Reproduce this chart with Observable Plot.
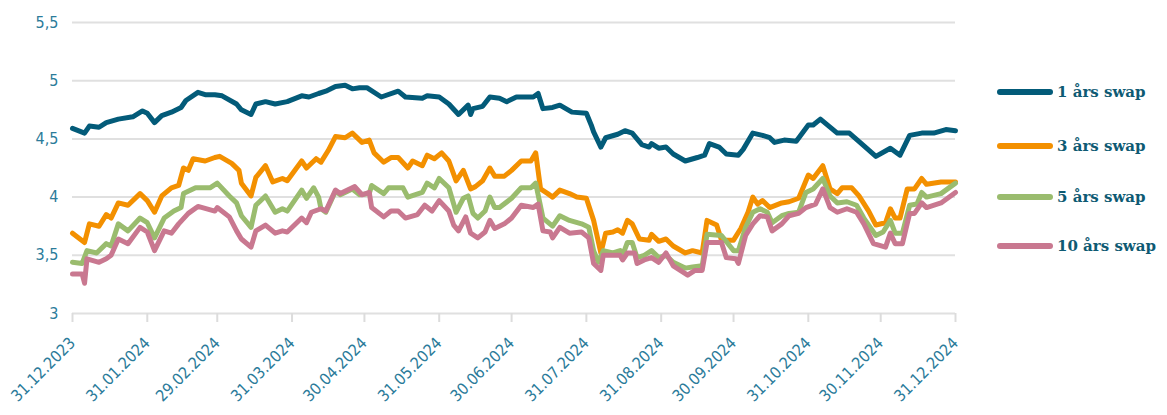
<!DOCTYPE html>
<html>
<head>
<meta charset="utf-8">
<script src="https://cdn.jsdelivr.net/npm/d3@7"></script>
<script src="https://cdn.jsdelivr.net/npm/@observablehq/plot@0.6"></script>
<style>
  html, body { margin: 0; padding: 0; background: #fff; }
  #wrap { position: relative; width: 1167px; height: 415px; }
  #chart { position: absolute; left: 0; top: 0; }
  .leg { position: absolute; left: 997px; height: 20px; display: flex; align-items: center;
         font-family: "DejaVu Serif", serif; font-weight: bold; font-size: 15px; color: #0e5a73; white-space: nowrap; }
  .leg .sw { width: 56px; height: 6px; border-radius: 3px; margin-right: 4px; }
</style>
</head>
<body>
<div id="wrap"><div id="chart"></div><div id="legend"></div></div>
<script>
const seriesNames = ["1 års swap", "3 års swap", "5 års swap", "10 års swap"];
const seriesColors = ["#035b79", "#f39000", "#9abc6e", "#c97890"];
const yTicks = [3, 3.5, 4, 4.5, 5, 5.5];
const xTicks = ["2023-12-31","2024-01-31","2024-02-29","2024-03-31","2024-04-30","2024-05-31","2024-06-30","2024-07-31","2024-08-31","2024-09-30","2024-10-31","2024-11-30","2024-12-31"];

const ones = [
["2023-12-31",4.59],["2024-01-05",4.55],["2024-01-07",4.61],["2024-01-11",4.60],["2024-01-14",4.64],["2024-01-19",4.67],
["2024-01-25",4.69],["2024-01-29",4.74],["2024-01-31",4.72],["2024-02-03",4.64],["2024-02-06",4.70],["2024-02-10",4.73],
["2024-02-14",4.77],["2024-02-16",4.83],["2024-02-21",4.90],["2024-02-24",4.88],["2024-02-28",4.88],["2024-03-02",4.87],
["2024-03-08",4.80],["2024-03-10",4.75],["2024-03-14",4.71],["2024-03-16",4.80],["2024-03-20",4.82],["2024-03-24",4.80],
["2024-03-29",4.82],["2024-04-04",4.87],["2024-04-07",4.86],["2024-04-11",4.89],["2024-04-14",4.91],["2024-04-18",4.95],
["2024-04-22",4.96],["2024-04-25",4.93],["2024-04-28",4.94],["2024-05-01",4.94],["2024-05-07",4.86],["2024-05-14",4.91],
["2024-05-17",4.86],["2024-05-24",4.85],["2024-05-26",4.87],["2024-05-31",4.86],["2024-06-04",4.80],["2024-06-08",4.71],
["2024-06-12",4.79],["2024-06-13",4.71],["2024-06-14",4.76],["2024-06-18",4.78],["2024-06-21",4.86],["2024-06-25",4.85],
["2024-06-28",4.82],["2024-07-02",4.86],["2024-07-09",4.86],["2024-07-11",4.89],["2024-07-13",4.76],["2024-07-17",4.77],
["2024-07-20",4.79],["2024-07-25",4.73],["2024-07-31",4.72],["2024-08-02",4.62],["2024-08-03",4.56],["2024-08-06",4.43],
["2024-08-08",4.51],["2024-08-13",4.54],["2024-08-16",4.57],["2024-08-19",4.55],["2024-08-23",4.45],["2024-08-26",4.43],
["2024-08-27",4.46],["2024-08-30",4.42],["2024-09-02",4.43],["2024-09-05",4.37],["2024-09-10",4.31],["2024-09-15",4.34],
["2024-09-18",4.36],["2024-09-20",4.46],["2024-09-24",4.43],["2024-09-27",4.37],["2024-10-02",4.36],["2024-10-04",4.41],
["2024-10-08",4.55],["2024-10-12",4.53],["2024-10-15",4.51],["2024-10-17",4.47],["2024-10-21",4.49],["2024-10-26",4.48],
["2024-10-31",4.62],["2024-11-02",4.62],["2024-11-05",4.67],["2024-11-12",4.55],["2024-11-17",4.55],["2024-11-22",4.46],
["2024-11-28",4.35],["2024-12-04",4.42],["2024-12-08",4.36],["2024-12-12",4.53],["2024-12-17",4.55],["2024-12-22",4.55],
["2024-12-27",4.58],["2024-12-31",4.57]
];

const threes = [
["2023-12-31",3.69],["2024-01-05",3.61],["2024-01-07",3.77],["2024-01-11",3.75],["2024-01-14",3.85],["2024-01-16",3.82],
["2024-01-19",3.95],["2024-01-23",3.93],["2024-01-28",4.03],["2024-01-31",3.97],["2024-02-03",3.87],["2024-02-06",4.01],
["2024-02-10",4.08],["2024-02-13",4.10],["2024-02-15",4.25],["2024-02-17",4.23],["2024-02-19",4.33],["2024-02-24",4.31],
["2024-02-28",4.34],["2024-03-01",4.35],["2024-03-06",4.29],["2024-03-09",4.23],["2024-03-10",4.12],["2024-03-14",4.01],
["2024-03-16",4.17],["2024-03-20",4.27],["2024-03-23",4.13],["2024-03-27",4.16],["2024-03-29",4.14],["2024-04-04",4.31],
["2024-04-06",4.25],["2024-04-10",4.33],["2024-04-12",4.30],["2024-04-15",4.40],["2024-04-18",4.52],["2024-04-22",4.51],
["2024-04-25",4.55],["2024-04-29",4.47],["2024-05-02",4.49],["2024-05-04",4.38],["2024-05-08",4.30],["2024-05-11",4.34],
["2024-05-14",4.34],["2024-05-18",4.25],["2024-05-20",4.31],["2024-05-24",4.27],["2024-05-26",4.36],["2024-05-29",4.33],
["2024-06-01",4.38],["2024-06-04",4.31],["2024-06-07",4.14],["2024-06-10",4.23],["2024-06-13",4.07],["2024-06-15",4.09],
["2024-06-18",4.14],["2024-06-21",4.25],["2024-06-23",4.18],["2024-06-27",4.18],["2024-06-30",4.23],["2024-07-04",4.31],
["2024-07-08",4.31],["2024-07-10",4.38],["2024-07-12",4.07],["2024-07-15",4.03],["2024-07-17",4.00],["2024-07-20",4.06],
["2024-07-24",4.03],["2024-07-27",4.00],["2024-07-31",3.99],["2024-08-03",3.80],["2024-08-06",3.52],["2024-08-08",3.69],
["2024-08-11",3.70],["2024-08-13",3.72],["2024-08-15",3.69],["2024-08-17",3.80],["2024-08-19",3.77],["2024-08-22",3.64],
["2024-08-26",3.63],["2024-08-27",3.68],["2024-08-30",3.62],["2024-09-02",3.64],["2024-09-05",3.58],["2024-09-10",3.52],
["2024-09-13",3.54],["2024-09-17",3.52],["2024-09-19",3.80],["2024-09-23",3.76],["2024-09-25",3.63],["2024-09-30",3.63],
["2024-10-03",3.73],["2024-10-06",3.87],["2024-10-08",4.00],["2024-10-10",3.94],["2024-10-12",3.97],["2024-10-15",3.91],
["2024-10-20",3.95],["2024-10-23",3.96],["2024-10-27",3.99],["2024-10-31",4.19],["2024-11-02",4.16],["2024-11-06",4.27],
["2024-11-09",4.07],["2024-11-12",4.03],["2024-11-14",4.08],["2024-11-18",4.08],["2024-11-21",4.01],["2024-11-25",3.88],
["2024-11-28",3.76],["2024-12-02",3.78],["2024-12-04",3.90],["2024-12-06",3.82],["2024-12-08",3.82],["2024-12-11",4.07],
["2024-12-14",4.07],["2024-12-17",4.16],["2024-12-19",4.11],["2024-12-25",4.13],["2024-12-31",4.13]
];

const fives = [
["2023-12-31",3.44],["2024-01-04",3.43],["2024-01-06",3.54],["2024-01-10",3.52],["2024-01-14",3.60],["2024-01-16",3.58],
["2024-01-19",3.77],["2024-01-23",3.71],["2024-01-28",3.82],["2024-01-31",3.78],["2024-02-03",3.65],["2024-02-07",3.82],
["2024-02-11",3.88],["2024-02-14",3.91],["2024-02-15",4.03],["2024-02-20",4.08],["2024-02-26",4.08],["2024-02-29",4.12],
["2024-03-05",4.01],["2024-03-08",3.95],["2024-03-10",3.84],["2024-03-14",3.74],["2024-03-16",3.93],["2024-03-20",4.01],
["2024-03-24",3.87],["2024-03-27",3.90],["2024-03-29",3.88],["2024-04-04",4.06],["2024-04-06",3.99],["2024-04-09",4.08],
["2024-04-11",4.00],["2024-04-12",3.90],["2024-04-14",3.87],["2024-04-18",4.05],["2024-04-20",4.02],["2024-04-25",4.07],
["2024-04-28",4.02],["2024-05-02",4.03],["2024-05-03",4.10],["2024-05-08",4.03],["2024-05-10",4.08],["2024-05-16",4.08],
["2024-05-18",4.00],["2024-05-24",4.04],["2024-05-26",4.12],["2024-05-29",4.08],["2024-05-31",4.16],["2024-06-04",4.08],
["2024-06-06",3.94],["2024-06-07",3.87],["2024-06-10",3.99],["2024-06-12",4.01],["2024-06-14",3.86],["2024-06-16",3.82],
["2024-06-19",3.88],["2024-06-21",4.00],["2024-06-23",3.91],["2024-06-25",3.91],["2024-06-30",3.99],["2024-07-04",4.08],
["2024-07-08",4.08],["2024-07-10",4.12],["2024-07-13",3.82],["2024-07-17",3.75],["2024-07-20",3.84],["2024-07-24",3.80],
["2024-07-29",3.77],["2024-08-01",3.74],["2024-08-03",3.54],["2024-08-05",3.44],["2024-08-07",3.54],["2024-08-11",3.52],
["2024-08-14",3.54],["2024-08-15",3.50],["2024-08-17",3.61],["2024-08-19",3.61],["2024-08-21",3.48],["2024-08-24",3.50],
["2024-08-27",3.54],["2024-08-30",3.48],["2024-09-02",3.50],["2024-09-05",3.44],["2024-09-10",3.39],["2024-09-13",3.40],
["2024-09-17",3.41],["2024-09-19",3.68],["2024-09-25",3.67],["2024-09-30",3.54],["2024-10-02",3.54],["2024-10-05",3.74],
["2024-10-08",3.87],["2024-10-11",3.90],["2024-10-14",3.87],["2024-10-16",3.78],["2024-10-20",3.84],["2024-10-23",3.86],
["2024-10-27",3.87],["2024-10-30",4.04],["2024-11-02",4.07],["2024-11-06",4.16],["2024-11-09",4.01],["2024-11-12",3.95],
["2024-11-16",3.96],["2024-11-20",3.93],["2024-11-23",3.82],["2024-11-28",3.67],["2024-12-01",3.70],["2024-12-04",3.80],
["2024-12-06",3.69],["2024-12-09",3.69],["2024-12-12",3.93],["2024-12-15",3.94],["2024-12-17",4.04],["2024-12-19",4.00],
["2024-12-25",4.03],["2024-12-31",4.12]
];

const tens = [
["2023-12-31",3.34],["2024-01-04",3.34],["2024-01-05",3.26],["2024-01-06",3.47],["2024-01-11",3.44],["2024-01-14",3.47],
["2024-01-16",3.50],["2024-01-19",3.64],["2024-01-23",3.60],["2024-01-28",3.74],["2024-01-31",3.70],["2024-02-03",3.54],
["2024-02-07",3.71],["2024-02-10",3.69],["2024-02-13",3.77],["2024-02-17",3.86],["2024-02-21",3.92],["2024-02-28",3.88],
["2024-02-29",3.91],["2024-03-05",3.83],["2024-03-08",3.71],["2024-03-10",3.64],["2024-03-14",3.57],["2024-03-16",3.71],
["2024-03-20",3.76],["2024-03-24",3.69],["2024-03-27",3.71],["2024-03-29",3.70],["2024-04-04",3.82],["2024-04-06",3.78],
["2024-04-08",3.87],["2024-04-12",3.90],["2024-04-14",3.88],["2024-04-18",4.06],["2024-04-20",4.03],["2024-04-26",4.09],
["2024-04-29",4.02],["2024-05-02",4.04],["2024-05-03",3.91],["2024-05-08",3.83],["2024-05-11",3.88],["2024-05-14",3.88],
["2024-05-17",3.82],["2024-05-22",3.85],["2024-05-25",3.93],["2024-05-28",3.88],["2024-05-31",3.97],["2024-06-04",3.88],
["2024-06-06",3.76],["2024-06-08",3.71],["2024-06-11",3.83],["2024-06-13",3.69],["2024-06-16",3.65],["2024-06-19",3.70],
["2024-06-21",3.80],["2024-06-23",3.73],["2024-06-27",3.77],["2024-06-30",3.82],["2024-07-04",3.93],["2024-07-09",3.91],
["2024-07-11",3.94],["2024-07-13",3.71],["2024-07-16",3.70],["2024-07-17",3.65],["2024-07-20",3.74],["2024-07-24",3.69],
["2024-07-29",3.70],["2024-08-01",3.65],["2024-08-03",3.43],["2024-08-06",3.37],["2024-08-07",3.50],["2024-08-11",3.50],
["2024-08-14",3.50],["2024-08-15",3.46],["2024-08-17",3.52],["2024-08-20",3.52],["2024-08-21",3.43],["2024-08-24",3.46],
["2024-08-27",3.48],["2024-08-30",3.44],["2024-09-02",3.52],["2024-09-05",3.41],["2024-09-11",3.33],["2024-09-14",3.37],
["2024-09-17",3.37],["2024-09-19",3.61],["2024-09-25",3.61],["2024-09-27",3.48],["2024-10-01",3.47],["2024-10-02",3.43],
["2024-10-05",3.67],["2024-10-08",3.77],["2024-10-11",3.84],["2024-10-14",3.83],["2024-10-16",3.71],["2024-10-20",3.77],
["2024-10-23",3.84],["2024-10-27",3.86],["2024-10-30",3.91],["2024-11-03",3.94],["2024-11-06",4.07],["2024-11-09",3.91],
["2024-11-12",3.87],["2024-11-16",3.90],["2024-11-20",3.87],["2024-11-23",3.77],["2024-11-27",3.60],["2024-12-02",3.57],
["2024-12-04",3.69],["2024-12-06",3.60],["2024-12-09",3.60],["2024-12-12",3.86],["2024-12-14",3.86],["2024-12-17",3.95],
["2024-12-19",3.91],["2024-12-25",3.95],["2024-12-31",4.04]
];

const seriesData = [ones, threes, fives, tens];
const data = seriesData.flatMap((arr, i) =>
  arr.map(([d, v]) => ({date: new Date(d + "T00:00:00Z"), value: v, series: seriesNames[i]})));

const tickColor = "#2b7b9a";
const fmtDate = d3.utcFormat("%d.%m.%Y");

const chart = Plot.plot({
  width: 980,
  height: 415,
  marginLeft: 72,
  marginRight: 25,
  marginTop: 22,
  marginBottom: 102,
  style: {fontFamily: "'DejaVu Sans Condensed', 'DejaVu Sans', sans-serif", fontSize: "16px", background: "#fff"},
  x: {type: "utc", domain: [new Date(xTicks[0] + "T00:00:00Z"), new Date(xTicks[xTicks.length - 1] + "T00:00:00Z")]},
  y: {domain: [3, 5.5]},
  color: {domain: seriesNames, range: seriesColors},
  marks: [
    Plot.gridY(yTicks, {stroke: "#e0e0e0", strokeOpacity: 1, strokeWidth: 2}),
    Plot.axisY(yTicks, {tickSize: 0, tickPadding: 14, fill: tickColor, label: null,
      tickFormat: d => String(d).replace(".", ",")}),
    Plot.axisX(xTicks.map(s => new Date(s + "T00:00:00Z")), {tickSize: 9, stroke: "#dcdcdc", strokeWidth: 2,
      fill: tickColor, tickRotate: -45, tickPadding: 18, tickFormat: fmtDate, label: null}),
    Plot.lineY(data, {x: "date", y: "value", z: "series", stroke: "series", strokeWidth: 5,
      strokeLinejoin: "round", strokeLinecap: "round"})
  ]
});
document.getElementById("chart").appendChild(chart);

const legendY = [92, 146, 197, 246];
const legend = document.getElementById("legend");
seriesNames.forEach((name, i) => {
  const row = document.createElement("div");
  row.className = "leg";
  row.style.top = (legendY[i] - 10) + "px";
  const sw = document.createElement("div");
  sw.className = "sw";
  sw.style.background = seriesColors[i];
  const t = document.createElement("span");
  t.textContent = name;
  row.appendChild(sw);
  row.appendChild(t);
  legend.appendChild(row);
});
</script>
</body>
</html>
